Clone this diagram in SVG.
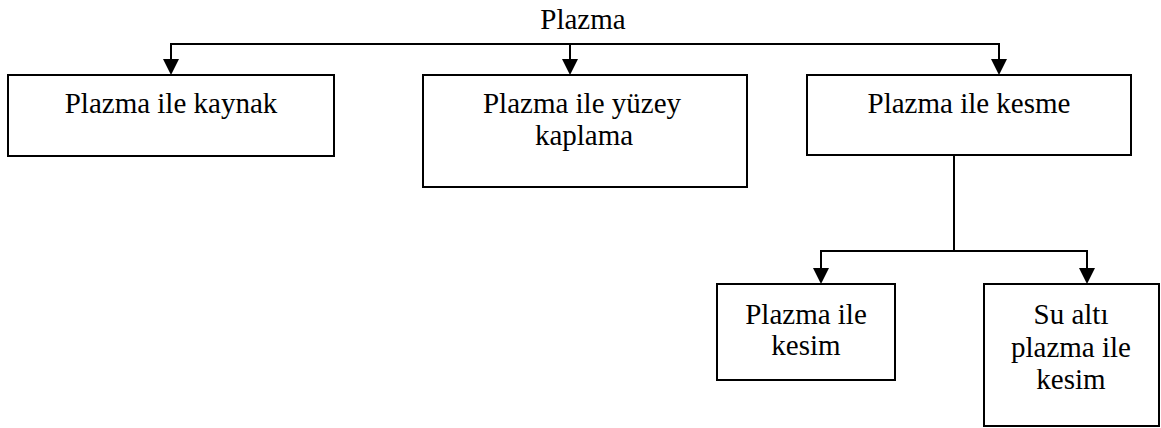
<svg xmlns="http://www.w3.org/2000/svg" width="1161" height="428" viewBox="0 0 1161 428">
<defs>
<style>
.box{fill:#fff;stroke:#000;stroke-width:2}
.ln{fill:none;stroke:#000;stroke-width:2}
text{font-family:"Liberation Serif","Times New Roman",serif;font-size:29px;fill:#000;text-anchor:middle}
</style>
</defs>
<rect width="1161" height="428" fill="#fff"/>
<text x="583" y="29">Plazma</text>
<g id="connectors">
<path class="ln" d="M171,44 H999"/>
<path class="ln" d="M171,43 V60"/>
<path d="M163,59 L179,59 L171,75 Z"/>
<path class="ln" d="M570,44 V60"/>
<path d="M562,59 L578,59 L570,75 Z"/>
<path class="ln" d="M999,43 V60"/>
<path d="M991,59 L1007,59 L999,75 Z"/>
<path class="ln" d="M954,155 V251 M821,251 H1087 M821,250 V269 M1087,250 V269"/>
<path d="M813,268 L829,268 L821,284 Z"/>
<path d="M1079,268 L1095,268 L1087,284 Z"/>
</g>
<g id="n1"><rect class="box" x="8" y="75" width="326" height="81"/><text x="171" y="113">Plazma ile kaynak</text></g>
<g id="n2"><rect class="box" x="423" y="75" width="324" height="112"/><text x="582" y="113">Plazma ile yüzey</text><text x="584" y="145">kaplama</text></g>
<g id="n3"><rect class="box" x="807" y="75" width="324" height="80"/><text x="969" y="113">Plazma ile kesme</text></g>
<g id="n4"><rect class="box" x="717" y="284" width="178" height="96"/><text x="806" y="324">Plazma ile</text><text x="806" y="355">kesim</text></g>
<g id="n5"><rect class="box" x="984" y="284" width="175" height="142"/><text x="1071" y="324">Su altı</text><text x="1071" y="357">plazma ile</text><text x="1071" y="389">kesim</text></g>
</svg>
